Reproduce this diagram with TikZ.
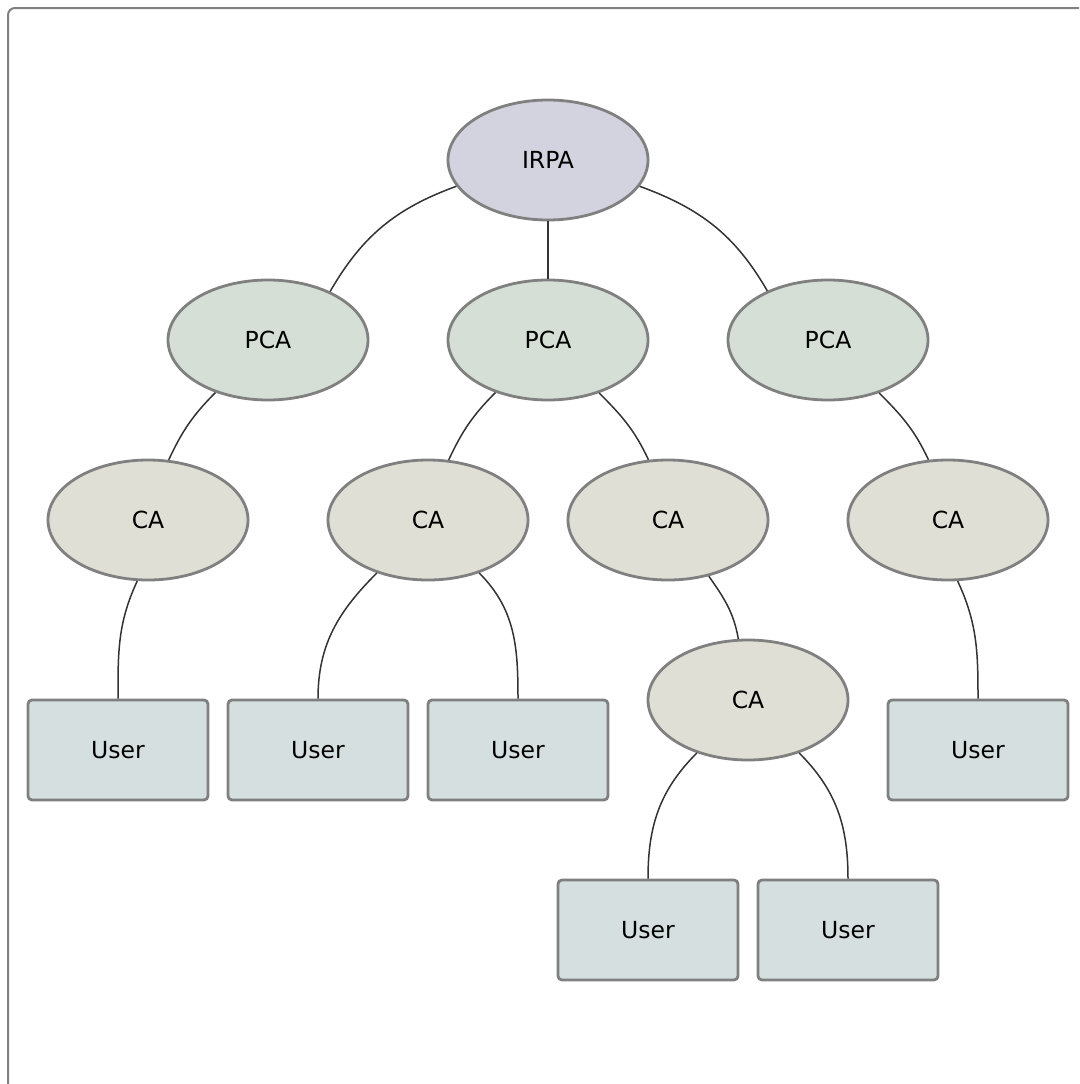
\documentclass[tikz,border=0pt]{standalone}
\usepackage{fontspec}
\setmainfont{DejaVu Sans}
\usetikzlibrary{shapes.geometric}
\definecolor{irpafill}{HTML}{D3D3E0}
\definecolor{pcafill}{HTML}{D5DFD5}
\definecolor{cafill}{HTML}{DFDFD5}
\definecolor{userfill}{HTML}{D5DFDF}
\definecolor{bordergray}{HTML}{808080}
\definecolor{linkgray}{HTML}{333333}
\tikzset{
  base/.style={draw=bordergray, line width=2.8pt, font=\fontsize{23.5}{27}\selectfont, inner sep=0pt},
  ell/.style={base, ellipse, minimum width=200pt, minimum height=120pt},
  irpanode/.style={ell, fill=irpafill},
  pcanode/.style={ell, fill=pcafill},
  canode/.style={ell, fill=cafill},
  usernode/.style={base, rectangle, rounded corners=4pt, fill=userfill, minimum width=180pt, minimum height=100pt},
  link/.style={draw=linkgray, line width=1.5pt},
  frame/.style={draw=bordergray, line width=2pt, rounded corners=7pt}
}
\begin{document}
\begin{tikzpicture}[x=1pt,y=-1pt]
\useasboundingbox (0,0) rectangle (1079,1084);
\clip (0,0) rectangle (1079,1084);
\fill[white] (0,0) rectangle (1079,1084);
\draw[frame] (8,8) rectangle (1100,1110);

\node[irpanode] (irpa) at (548,160) {IRPA};
\node[pcanode] (p1) at (268,340) {PCA};
\node[pcanode] (p2) at (548,340) {PCA};
\node[pcanode] (p3) at (828,340) {PCA};
\node[canode] (c1) at (148,520) {CA};
\node[canode] (c2) at (428,520) {CA};
\node[canode] (c3) at (668,520) {CA};
\node[canode] (c4) at (948,520) {CA};
\node[canode] (c5) at (748,700) {CA};
\node[usernode] (u1) at (118,750) {User};
\node[usernode] (u2) at (318,750) {User};
\node[usernode] (u3) at (518,750) {User};
\node[usernode] (u4) at (978,750) {User};
\node[usernode] (u5) at (648,930) {User};
\node[usernode] (u6) at (848,930) {User};

\draw[link] (irpa.196) to[out=200,in=60] (p1.38.7);
\draw[link] (irpa.south) -- (p2.north);
\draw[link] (irpa.344) to[out=-20,in=120] (p3.141.3);
\draw[link] (p1.225.6) to[out=225,in=65] (c1.71);
\draw[link] (p2.225.6) to[out=225,in=65] (c2.71);
\draw[link] (p2.314.4) to[out=-45,in=115] (c3.108.7);
\draw[link] (p3.314.4) to[out=-45,in=115] (c4.108.7);
\draw[link] (c1.260.5) to[out=245,in=90] (u1.north);
\draw[link] (c2.226) to[out=225,in=90] (u2.north);
\draw[link] (c2.314) to[out=-45,in=90] (u3.north);
\draw[link] (c3.306) to[out=-55,in=100] (c5.99.5);
\draw[link] (c5.226) to[out=225,in=90] (u5.north);
\draw[link] (c5.314) to[out=-45,in=90] (u6.north);
\draw[link] (c4.279.5) to[out=-65,in=90] (u4.north);
\end{tikzpicture}
\end{document}
